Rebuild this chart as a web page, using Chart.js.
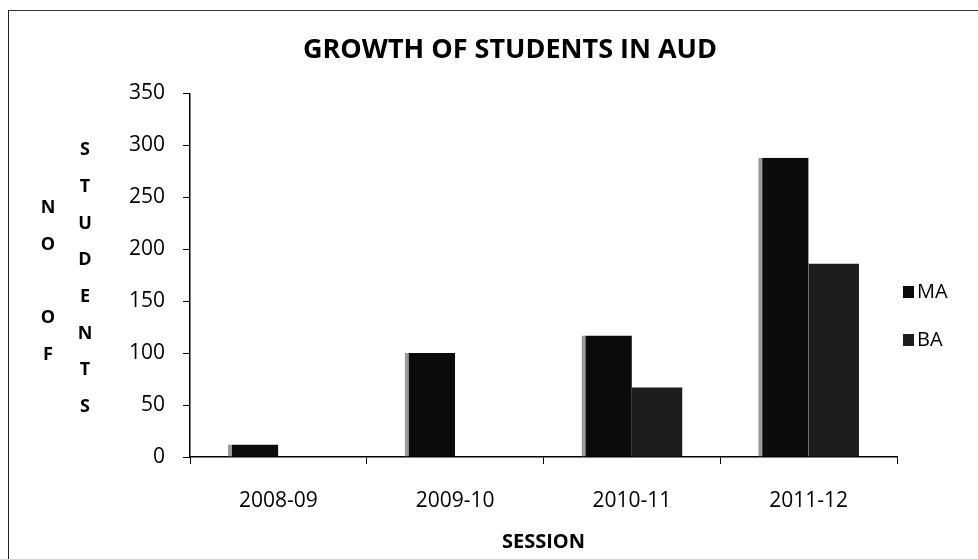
<!DOCTYPE html>
<html>
<head>
<meta charset="utf-8">
<title>Growth of students in AUD</title>
<script src="https://cdn.jsdelivr.net/npm/chart.js@4/dist/chart.umd.min.js"></script>
<style>
  body { margin: 0; background: #fff; }
  #wrap { position: relative; width: 978px; height: 559px; }
  #frame {
    position: absolute; left: 8px; top: 10px; right: 0; bottom: 0;
    border-left: 1.5px solid #222; border-top: 1.5px solid #333;
    pointer-events: none;
  }
</style>
</head>
<body>
<div id="wrap">
  <canvas id="growthChart" width="978" height="559"></canvas>
  <div id="frame"></div>
</div>
<script>
// values
const sessions = ['2008-09', '2009-10', '2010-11', '2011-12'];
const maStudents = [12, 100, 117, 288];
const baStudents = [0, 0, 67, 186];
const yTicks = [0, 50, 100, 150, 200, 250, 300, 350];
const yTitleColumns = ['NO OF', 'STUDENTS'];

const FONT = "'Open Sans', 'DejaVu Sans', sans-serif";

// stacked letters for the y title, like the excel original
const stackedTitle = {
  id: 'stackedTitle',
  afterDraw(chart) {
    const ctx = chart.ctx;
    ctx.save();
    ctx.fillStyle = '#000';
    ctx.font = 'bold 18px ' + FONT;
    ctx.textAlign = 'center';
    ctx.textBaseline = 'middle';
    const colX = [48, 85];
    const colTop = [208, 150];
    yTitleColumns.forEach(function(word, c) {
      word.split('').forEach(function(ch, i) {
        if (ch !== ' ') ctx.fillText(ch, colX[c], colTop[c] + i * 36.7);
      });
    });
    ctx.restore();
  }
};

// small legend on the right
const sideLegend = {
  id: 'sideLegend',
  afterDraw(chart) {
    const ctx = chart.ctx;
    const area = chart.chartArea;
    ctx.save();
    ctx.font = '20px ' + FONT;
    ctx.textBaseline = 'middle';
    chart.data.datasets.forEach(function(ds, i) {
      const y = 292 + i * 48;
      ctx.fillStyle = ds.backgroundColor;
      ctx.fillRect(area.right + 6, y - 6, 11, 12);
      ctx.fillStyle = '#000';
      ctx.fillText(ds.label, area.right + 20, y);
    });
    ctx.restore();
  }
};

new Chart(document.getElementById('growthChart'), {
  type: 'bar',
  data: {
    labels: sessions,
    datasets: [
      {
        label: 'MA',
        data: maStudents,
        backgroundColor: '#0b0b0b',
        borderColor: '#9a9a9a',
        borderWidth: { left: 4, top: 0, right: 0, bottom: 0 },
        borderSkipped: false
      },
      {
        label: 'BA',
        data: baStudents,
        backgroundColor: '#1d1d1d'
      }
    ]
  },
  options: {
    responsive: false,
    animation: false,
    layout: { padding: { left: 123, right: 81, top: 0, bottom: 0 } },
    categoryPercentage: 0.57,
    barPercentage: 1.0,
    plugins: {
      legend: { display: false },
      tooltip: { enabled: false },
      title: {
        display: true,
        text: 'GROWTH OF STUDENTS IN AUD',
        color: '#000',
        font: { family: FONT, size: 27, weight: 'bold' },
        padding: { top: 34, bottom: 27 }
      }
    },
    scales: {
      x: {
        grid: { display: true, drawOnChartArea: false, tickLength: 7, color: '#000', offset: true },
        border: { color: '#000', width: 1.5 },
        ticks: { color: '#000', font: { family: FONT, size: 21 }, padding: 24 },
        title: {
          display: true,
          text: 'SESSION',
          color: '#000',
          font: { family: FONT, size: 20, weight: 'bold' },
          padding: { top: 0, bottom: 5 }
        },
        afterFit(scale) { scale.height = 102; }
      },
      y: {
        min: 0,
        max: 350,
        afterBuildTicks(scale) { scale.ticks = yTicks.map(v => ({ value: v })); },
        grid: { display: true, drawOnChartArea: false, tickLength: 7, color: '#000' },
        border: { color: '#000', width: 1.5 },
        ticks: { color: '#000', font: { family: FONT, size: 21 }, padding: 18 },
        afterFit(scale) { scale.width = 67; }
      }
    }
  },
  plugins: [stackedTitle, sideLegend]
});
</script>
</body>
</html>
